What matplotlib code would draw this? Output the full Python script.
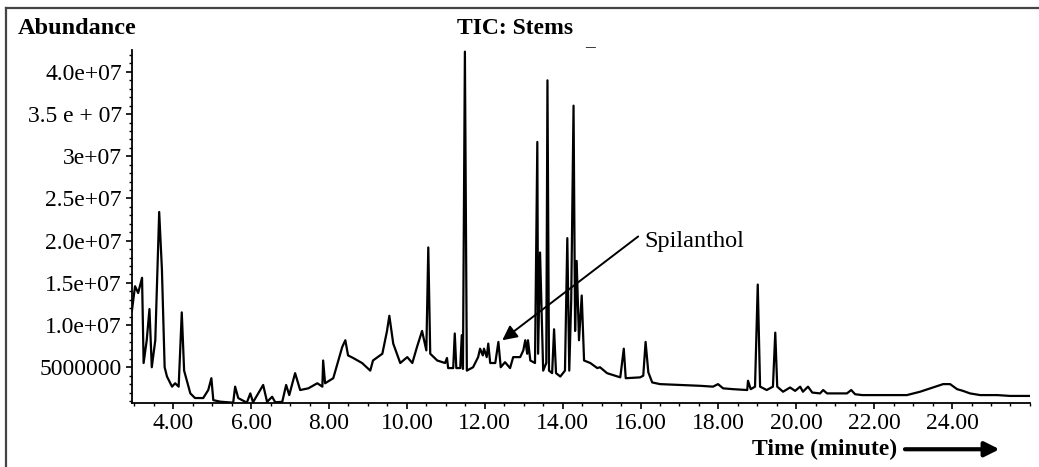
import numpy as np
import matplotlib
matplotlib.use("Agg")
import matplotlib.pyplot as plt
from matplotlib.lines import Line2D
from matplotlib.ticker import MultipleLocator

plt.rcParams['font.family'] = ['Liberation Serif', 'DejaVu Serif']

# retention time (minutes) and abundance (millions of counts)
time_min = [
    2.94, 3.02, 3.10, 3.20, 3.24, 3.32, 3.39, 3.45, 3.54, 3.64, 3.71, 3.78, 3.84, 3.97,
    4.05, 4.14, 4.22, 4.28, 4.44, 4.56, 4.77, 4.90, 4.98, 5.03, 5.21, 5.54, 5.59, 5.67,
    5.89, 5.98, 6.05, 6.31, 6.41, 6.54, 6.62, 6.80, 6.90, 6.98, 7.13, 7.26, 7.47, 7.70,
    7.83, 7.85, 7.90, 8.11, 8.34, 8.42, 8.49, 8.62, 8.85, 9.06, 9.13, 9.37, 9.49, 9.55,
    9.65, 9.83, 10.01, 10.14, 10.26, 10.39, 10.50, 10.55, 10.60, 10.78, 10.98, 11.03,
    11.06, 11.19, 11.23, 11.27, 11.37, 11.41, 11.44, 11.49, 11.54, 11.70, 11.83, 11.88,
    11.95, 11.98, 12.05, 12.09, 12.14, 12.27, 12.35, 12.41, 12.52, 12.65, 12.73, 12.91,
    12.99, 13.04, 13.09, 13.11, 13.17, 13.29, 13.35, 13.37, 13.42, 13.50, 13.58, 13.61,
    13.65, 13.73, 13.78, 13.83, 13.94, 14.01, 14.06, 14.12, 14.17, 14.22, 14.28, 14.32,
    14.36, 14.42, 14.49, 14.55, 14.71, 14.89, 14.96, 15.14, 15.48, 15.57, 15.62, 15.99,
    16.07, 16.13, 16.20, 16.30, 16.50, 17.02, 17.53, 17.86, 17.99, 18.12, 18.38, 18.74,
    18.76, 18.83, 18.94, 19.01, 19.07, 19.24, 19.40, 19.46, 19.51, 19.66, 19.84, 19.97,
    20.10, 20.17, 20.30, 20.41, 20.61, 20.69, 20.79, 21.30, 21.41, 21.51, 21.69, 22.15,
    22.84, 23.18, 23.51, 23.77, 23.95, 24.13, 24.28, 24.46, 24.72, 25.16, 25.49, 26.00,
]
abund_m = [
    11.7, 14.6, 13.8, 15.6, 5.5, 8.2, 11.9, 5.0, 8.2, 23.4, 16.6, 5.0, 3.9, 2.7,
    3.1, 2.7, 11.5, 4.6, 1.9, 1.35, 1.35, 2.3, 3.7, 1.1, 0.92, 0.8, 2.7, 1.35,
    0.8, 1.9, 0.85, 2.9, 0.9, 1.5, 0.85, 0.9, 2.9, 1.7, 4.3, 2.3, 2.5, 3.1,
    2.7, 5.8, 3.1, 3.7, 7.4, 8.2, 6.4, 6.1, 5.5, 4.6, 5.8, 6.6, 9.3, 11.1,
    7.8, 5.5, 6.2, 5.5, 7.4, 9.3, 7.0, 19.2, 6.6, 5.8, 5.5, 6.1,
    4.9, 4.9, 9.0, 4.9, 4.9, 8.8, 4.8, 42.4, 4.6, 5.0, 6.2, 7.2,
    6.4, 7.2, 6.2, 7.8, 5.5, 5.5, 8.0, 5.0, 5.6, 4.9, 6.2, 6.2,
    7.0, 8.2, 6.6, 8.2, 5.8, 5.5, 31.7, 6.6, 18.6, 4.6, 5.5, 39.0,
    4.6, 4.3, 9.5, 4.3, 3.9, 4.3, 4.6, 20.3, 4.6, 12.9, 36.0, 9.3,
    17.6, 8.2, 13.5, 5.8, 5.5, 4.9, 5.0, 4.3, 3.8, 7.2, 3.7, 3.8,
    4.0, 8.0, 4.4, 3.2, 3.0, 2.9, 2.8, 2.7, 3.0, 2.5, 2.4, 2.3,
    3.4, 2.4, 2.7, 14.8, 2.7, 2.3, 2.7, 9.1, 2.7, 2.1, 2.6, 2.2,
    2.7, 2.1, 2.7, 2.0, 1.9, 2.3, 1.9, 1.9, 2.3, 1.8, 1.7, 1.7,
    1.7, 2.1, 2.6, 3.0, 3.0, 2.4, 2.2, 1.9, 1.7, 1.7, 1.6, 1.6,
]

x_ticks = [4, 6, 8, 10, 12, 14, 16, 18, 20, 22, 24]
x_labels = ["4.00", "6.00", "8.00", "10.00", "12.00", "14.00", "16.00",
            "18.00", "20.00", "22.00", "24.00"]
y_ticks = [5e6, 1e7, 1.5e7, 2e7, 2.5e7, 3e7, 3.5e7, 4e7]
y_labels = ["5000000", "1.0e+07", "1.5e+07", "2.0e+07", "2.5e+07",
            "3e+07", "3.5 e + 07", "4.0e+07"]

# spilanthol arrow: text end and peak end (time, abundance in millions)
label_pt = (15.94, 20.5)
peak_pt = (12.45, 8.2)

fig = plt.figure(figsize=(10.39, 4.67), dpi=100)
ax = fig.add_axes([0.1266, 0.137, 0.8647, 0.756])

ax.plot(time_min, np.array(abund_m) * 1e6, color='black', lw=1.6)

ax.set_xlim(2.93, 26.0)
ax.set_ylim(0.76e6, 42.6e6)
ax.set_xticks(x_ticks)
ax.set_xticklabels(x_labels)
ax.set_yticks(y_ticks)
ax.set_yticklabels(y_labels)
ax.xaxis.set_minor_locator(MultipleLocator(0.5))
ax.yaxis.set_minor_locator(MultipleLocator(1e6))
ax.tick_params(axis='both', which='major', labelsize=17, length=4, width=1.2, pad=3)
ax.tick_params(axis='both', which='minor', length=2.5, width=1.0)
for s in ['top', 'right']:
    ax.spines[s].set_visible(False)
for s in ['left', 'bottom']:
    ax.spines[s].set_linewidth(1.3)

ax.annotate('', xy=(peak_pt[0], peak_pt[1] * 1e6),
            xytext=(label_pt[0], label_pt[1] * 1e6),
            arrowprops=dict(arrowstyle='-|>', color='black', lw=1.4,
                            mutation_scale=22, shrinkA=0, shrinkB=0))
ax.text(16.1, 19.9e6, "Spilanthol", fontsize=17.5, ha='left', va='center')

fig.text(0.0173, 0.94, "Abundance", fontsize=17.5, fontweight='bold', ha='left', va='center')
fig.text(0.4957, 0.94, "TIC: Stems", fontsize=17, fontweight='bold', ha='center', va='center')
fig.text(0.568, 0.897, "\u2013", fontsize=14, ha='center', va='center')
fig.text(0.794, 0.038, "Time (minute)", fontsize=17, fontweight='bold', ha='center', va='center')
fig.add_artist(plt.Annotation('', xy=(0.962, 0.038), xytext=(0.871, 0.038),
                              xycoords='figure fraction', textcoords='figure fraction',
                              arrowprops=dict(arrowstyle='-|>', color='black', lw=3,
                                              mutation_scale=22, shrinkA=0, shrinkB=0)))

# outer frame (top and left edges only)
fig.add_artist(Line2D([0.0058, 1.0], [0.983, 0.983], transform=fig.transFigure, color='#444444', lw=1.6))
fig.add_artist(Line2D([0.0058, 0.0058], [0.0, 0.983], transform=fig.transFigure, color='#444444', lw=1.6))

fig.savefig("out.png", dpi=100)
